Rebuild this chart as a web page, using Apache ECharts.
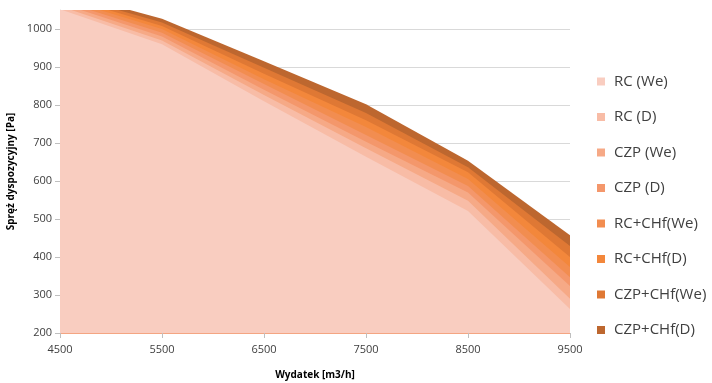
<!DOCTYPE html>
<html>
<head>
<meta charset="utf-8">
<script src="https://cdn.jsdelivr.net/npm/echarts@6/dist/echarts.min.js"></script>
<style>
  html, body { margin: 0; padding: 0; background: #fff; }
  #chart { width: 712px; height: 383px; }
</style>
</head>
<body>
<div id="chart"></div>
<script>
// Flow rate categories [m3/h]
const flowRates = ['4500', '5500', '6500', '7500', '8500', '9500'];

// Available pressure [Pa] for each unit variant
const rcWe      = [1052, 960, 810, 664, 521, 263];
const rcD       = [1060, 970, 826, 686, 548, 290];
const czpWe     = [1068, 980, 840, 703, 570, 324];
const czpD      = [1075, 990, 855, 721, 587, 347];
const rcChfWe   = [1082, 1000, 868, 742, 605, 374];
const rcChfD    = [1088, 1008, 882, 760, 623, 400];
const czpChfWe  = [1094, 1017, 898, 779, 636, 429];
const czpChfD   = [1100, 1027, 915, 802, 653, 457];

const seriesNames = ['RC (We)', 'RC (D)', 'CZP (We)', 'CZP (D)', 'RC+CHf(We)', 'RC+CHf(D)', 'CZP+CHf(We)', 'CZP+CHf(D)'];
const seriesData = [rcWe, rcD, czpWe, czpD, rcChfWe, rcChfD, czpChfWe, czpChfD];
const seriesColors = ['#f9cdc0', '#f8bca6', '#f6a986', '#f4976b', '#f28d50', '#f3873b', '#df7834', '#bd672f'];

const FONT = 'Open Sans';

// Largest curves go first so the smaller areas paint over them
const series = [];
for (let i = seriesNames.length - 1; i >= 0; i--) {
  series.push({
    name: seriesNames[i],
    type: 'line',
    data: seriesData[i],
    symbol: 'none',
    lineStyle: { width: 0 },
    itemStyle: { color: seriesColors[i] },
    areaStyle: { color: seriesColors[i], opacity: 1, origin: 'start' }
  });
}

const chart = echarts.init(document.getElementById('chart'), null, { renderer: 'canvas' });
chart.setOption({
  animation: false,
  backgroundColor: '#ffffff',
  grid: { left: 60, right: 142, top: 10, bottom: 50, outerBoundsMode: 'none', containLabel: false },
  legend: {
    orient: 'vertical',
    left: 592,
    top: 69,
    itemWidth: 8,
    itemHeight: 8,
    itemGap: 20.5,
    icon: 'rect',
    data: seriesNames,
    textStyle: { fontFamily: FONT, fontSize: 15, color: '#404040', padding: [0, 0, 0, 4] }
  },
  xAxis: {
    type: 'category',
    data: flowRates,
    boundaryGap: false,
    name: 'Wydatek [m3/h]',
    nameLocation: 'middle',
    nameGap: 37,
    nameTextStyle: { fontFamily: FONT, fontSize: 10, fontWeight: 'bold', color: '#000' },
    axisLine: { lineStyle: { color: '#f4a582', width: 1 } },
    axisTick: { show: true, length: 5, lineStyle: { color: '#bfbfbf' } },
    axisLabel: { fontFamily: FONT, fontSize: 11, color: '#404040', margin: 11 },
    splitLine: { show: false }
  },
  yAxis: {
    type: 'value',
    min: 200,
    max: 1050,
    interval: 100,
    name: 'Spręż dyspozycyjny [Pa]',
    nameLocation: 'middle',
    nameGap: 40,
    nameRotate: 90,
    nameTextStyle: { fontFamily: FONT, fontSize: 10, fontWeight: 'bold', color: '#000' },
    axisLine: { show: true, lineStyle: { color: '#d9d9d9' } },
    axisTick: { show: true, length: 5, lineStyle: { color: '#bfbfbf' } },
    axisLabel: {
      fontFamily: FONT, fontSize: 11, color: '#404040', margin: 8, showMaxLabel: false,
      formatter: function (v) { return String(v); }
    },
    splitLine: { show: true, showMaxLine: false, lineStyle: { color: '#d9d9d9', width: 1 } }
  },
  series: series
});
</script>
</body>
</html>
